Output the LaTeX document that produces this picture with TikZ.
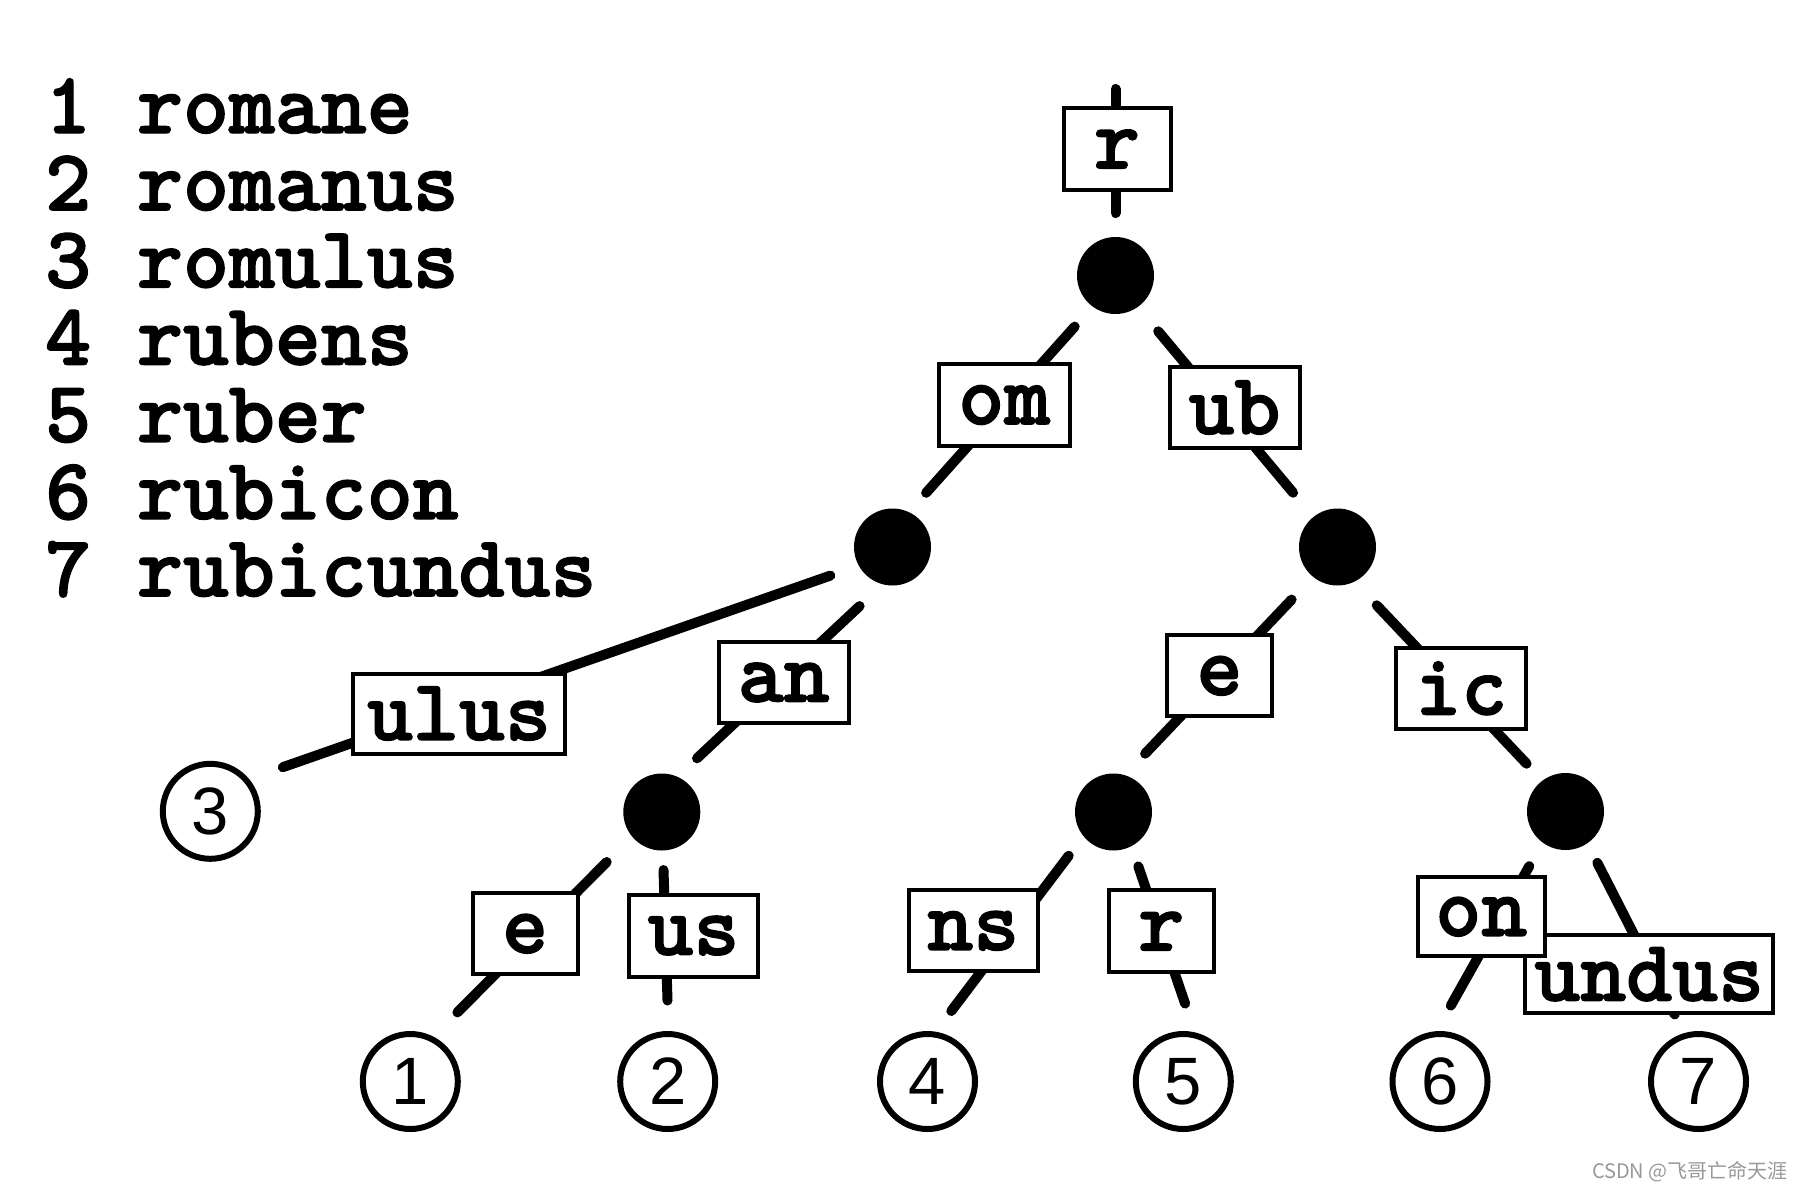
\documentclass[tikz,border=0pt]{standalone}
\usepackage{fontspec}
\usetikzlibrary{calc}
\newfontfamily\numfont{Liberation Sans}
\newfontfamily\cjkfont{Noto Sans CJK SC}
\newfontfamily\monob{lmmonolt10-bold.otf}[FakeBold=1.6]
\begin{document}
\begin{tikzpicture}[x=1pt,y=-1pt,
  edge/.style={line width=10pt, line cap=round},
  inode/.style={circle, fill=black, inner sep=0pt, minimum size=77pt},
  leaf/.style={circle, draw=black, line width=6pt, fill=white, inner sep=0pt, minimum size=95pt, font=\numfont\fontsize{67}{76}\selectfont},
  lbl/.style={draw=black, line width=4pt, fill=white, inner sep=0pt, font=\monob\fontsize{87.5}{100}\selectfont},
  word/.style={anchor=base west, inner sep=0pt, font=\monob\fontsize{87.5}{100}\selectfont}
]
\fill[white] (0,0) rectangle (1802,1192);
\useasboundingbox (0,0) rectangle (1802,1192);

% word list
\node[word] (w1) at (45,133) {1 romane};
\node[word] (w2) at (45,210.2) {2 romanus};
\node[word] (w3) at (45,287.4) {3 romulus};
\node[word] (w4) at (45,364.6) {4 rubens};
\node[word] (w5) at (45,441.8) {5 ruber};
\node[word] (w6) at (45,519) {6 rubicon};
\node[word] (w7) at (45,596.2) {7 rubicundus};

% inner nodes
\node[inode] (root) at (1115.5,275.5) {};
\node[inode] (L) at (892.5,547) {};
\node[inode] (R) at (1337.5,547) {};
\node[inode] (AN) at (661.8,812) {};
\node[inode] (E) at (1113.5,812) {};
\node[inode] (IC) at (1565.5,811.5) {};

% leaves
\node[leaf] (l3) at (210.3,811.3) {3};
\node[leaf] (l1) at (410.3,1081.5) {1};
\node[leaf] (l2) at (667.7,1081.5) {2};
\node[leaf] (l4) at (927.5,1081.5) {4};
\node[leaf] (l5) at (1183.3,1081.5) {5};
\node[leaf] (l6) at (1440,1081.5) {6};
\node[leaf] (l7) at (1698.5,1081.5) {7};

\coordinate (top) at (1115.5,89);

% edges
\draw[edge] (top) -- ($(root)+(0,-62.5)$);
\draw[edge] ($(root)+(-40.8,51.1)$) -- ($(L)+(33.6,-54.2)$);
\draw[edge] ($(root)+(42.7,55.8)$) -- ($(R)+(-44.4,-54.3)$);
\draw[edge] ($(L)+(-62.2,28.6)$) -- ($(l3)+(72.5,-44.1)$);
\draw[edge] ($(L)+(-32.9,59.1)$) -- ($(AN)+(35.2,-53.7)$);
\draw[edge] ($(AN)+(-55.1,50)$) -- ($(l1)+(47.1,-69.1)$);
\draw[edge] ($(AN)+(1.7,58)$) -- ($(l2)+(-0.2,-81)$);
\draw[edge] ($(R)+(-45.9,52.6)$) -- ($(E)+(31.6,-58.3)$);
\draw[edge] ($(R)+(39.2,58.3)$) -- ($(IC)+(-38.9,-47.8)$);
\draw[edge] ($(E)+(-44.8,43.7)$) -- ($(l4)+(23.8,-70.5)$);
\draw[edge] ($(E)+(24.8,54.4)$) -- ($(l5)+(1.8,-77.9)$);
\draw[edge] ($(IC)+(-36.2,54.6)$) -- ($(l6)+(10.8,-75.9)$);
\draw[edge] ($(IC)+(31.8,51.3)$) -- ($(l7)+(-23.8,-67)$);

% edge labels
\node[lbl, minimum width=107pt, minimum height=82pt] (br) at (1117,149) {r};
\node[lbl, minimum width=131pt, minimum height=82pt] (bom) at (1004.2,405) {om};
\node[lbl, minimum width=130pt, minimum height=81pt] (bub) at (1234.5,407.5) {ub};
\node[lbl, minimum width=212pt, minimum height=80pt] (bulus) at (459,713.5) {ulus};
\node[lbl, minimum width=130pt, minimum height=81pt] (ban) at (783.7,682.5) {an};
\node[lbl, minimum width=105pt, minimum height=81pt] (be2) at (1219.5,675.8) {e};
\node[lbl, minimum width=130pt, minimum height=81pt] (bic) at (1461.2,688.3) {ic};
\node[lbl, minimum width=105pt, minimum height=81pt] (be1) at (525.1,933.7) {e};
\node[lbl, minimum width=129pt, minimum height=82pt] (bus) at (693.5,935.6) {us};
\node[lbl, minimum width=129pt, minimum height=81pt] (bns) at (973.3,930.8) {ns};
\node[lbl, minimum width=105pt, minimum height=82pt] (br2) at (1161.3,931.2) {r};
\node[lbl, minimum width=248pt, minimum height=78pt] (bundus) at (1649.2,974.2) {undus};
\node[lbl, minimum width=127pt, minimum height=79pt] (bon) at (1481.3,916.7) {on};

% watermark
\node[anchor=east, inner sep=0pt, text=black!40, font=\cjkfont\fontsize{20}{24}\selectfont] (wm) at (1788,1172) {CSDN @飞哥亡命天涯};
\end{tikzpicture}
\end{document}
